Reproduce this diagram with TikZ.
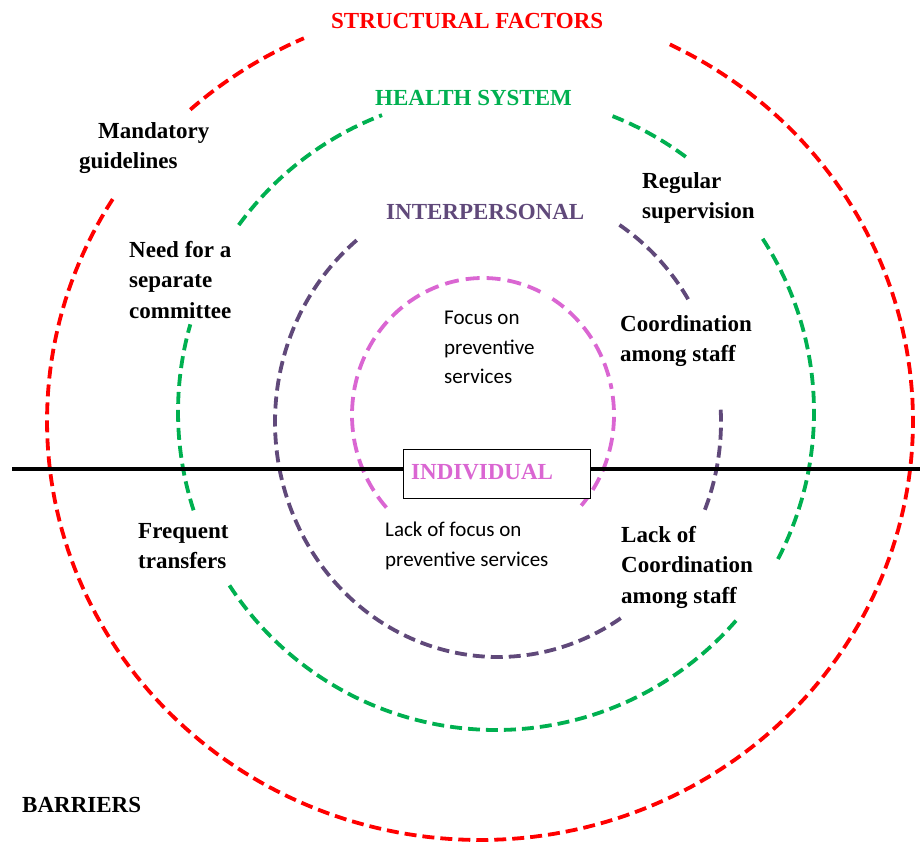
\documentclass[tikz,border=0pt]{standalone}
\usepackage{fontspec}
\setmainfont{Liberation Serif}[BoldFont={Liberation Serif Bold}]
\newfontfamily\calib{Carlito}
\definecolor{cred}{RGB}{255,0,0}
\definecolor{cgreen}{RGB}{0,176,80}
\definecolor{cpurple}{RGB}{96,73,122}
\definecolor{cpink}{RGB}{218,102,210}
\tikzset{
  ring/.style={line width=3.8pt, dash pattern=on 12pt off 6pt},
  lbl/.style={font=\bfseries\fontsize{23}{30.5}\selectfont, align=left, inner sep=0pt, anchor=north west, text=black},
  sanslbl/.style={font=\calib\fontsize{21}{29.5}\selectfont, align=left, inner sep=0pt, anchor=north west, text=black},
  ttl/.style={font=\bfseries\fontsize{23}{26}\selectfont, inner sep=0pt, anchor=base west}
}
\begin{document}
\begin{tikzpicture}[x=1pt,y=-1pt]
\useasboundingbox (0,0) rectangle (920,843);
% red ring (structural factors)
\draw[ring,cred] plot[domain=228:246,samples=30] ({480+433*cos(\x)},{421+419*sin(\x)});
\draw[ring,cred] plot[domain=-64:212,samples=200] ({480+433*cos(\x)},{421+419*sin(\x)});
% green ring (health system)
\draw[ring,cgreen] plot[domain=216:249,samples=30] ({496+318*cos(\x)},{412+318*sin(\x)});
\draw[ring,cgreen] plot[domain=162:196,samples=30] ({496+318*cos(\x)},{412+318*sin(\x)});
\draw[ring,cgreen] plot[domain=41:147,samples=100] ({496+318*cos(\x)},{412+318*sin(\x)});
\draw[ring,cgreen] plot[domain=-33:28,samples=60] ({496+318*cos(\x)},{412+318*sin(\x)});
\draw[ring,cgreen] plot[domain=-68.5:-53,samples=20] ({496+318*cos(\x)},{412+318*sin(\x)});
% purple ring (interpersonal)
\draw[ring,cpurple] plot[domain=56.6:232,samples=150] ({498+223*cos(\x)},{422+235*sin(\x)});
\draw[ring,cpurple] plot[domain=-57:-31,samples=30] ({498+223*cos(\x)},{422+235*sin(\x)});
\draw[ring,cpurple] plot[domain=-3:22,samples=30] ({498+223*cos(\x)},{422+235*sin(\x)});
% pink ring (individual)
\draw[ring,cpink,dash pattern=on 14pt off 7pt] plot[domain=137.5:298,samples=120] ({483+131*cos(\x)},{415+137*sin(\x)});
\draw[ring,cpink,dash pattern=on 14pt off 7pt] plot[domain=302:349,samples=40] ({483+131*cos(\x)},{415+137*sin(\x)});
\draw[ring,cpink,dash pattern=on 14pt off 7pt] plot[domain=352:401.4,samples=40] ({483+131*cos(\x)},{415+137*sin(\x)});
% divider
\coordinate (lineL) at (12,469);
\coordinate (lineR) at (920,469);
\draw[line width=4pt,black] (lineL) -- (lineR);
\node[draw=black, line width=1.2pt, fill=white, minimum width=187pt, minimum height=49pt, inner sep=0pt, anchor=north west] (indbox) at (403,449) {};
% titles
\node[ttl,text=cred] (structural) at (331,29) {STRUCTURAL FACTORS};
\node[ttl,text=cgreen] (health) at (375,105) {HEALTH SYSTEM};
\node[ttl,text=cpurple] (interp) at (386,219) {INTERPERSONAL};
\node[ttl,text=cpink] (indiv) at (411,479) {INDIVIDUAL};
% labels
\node[lbl] (mand) at (79,122) {\hspace*{19pt}Mandatory\\guidelines};
\node[lbl] (need) at (129,241) {Need for a\\separate\\committee};
\node[lbl] (regular) at (642,172) {Regular\\supervision};
\node[lbl] (coord) at (620,315) {Coordination\\among staff};
\node[lbl] (freq) at (138,523) {Frequent\\transfers};
\node[lbl] (lackc) at (621,526) {Lack of\\Coordination\\among staff};
\node[ttl,text=black] (barriers) at (22,812) {BARRIERS};
\node[sanslbl] (focus) at (444,311) {Focus on\\preventive\\services};
\node[sanslbl] (lackf) at (385,522) {Lack of focus on\\preventive services};
\end{tikzpicture}
\end{document}
